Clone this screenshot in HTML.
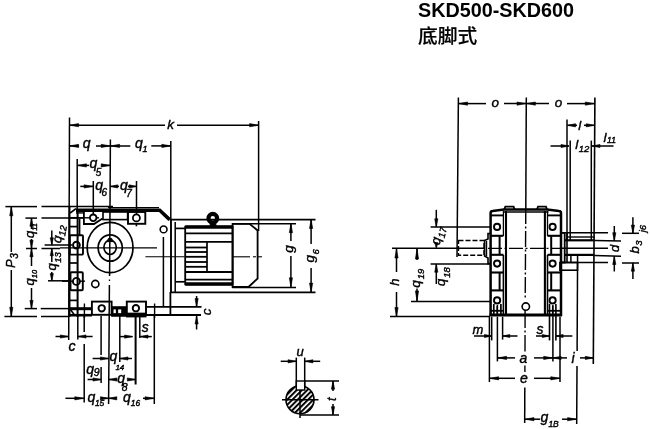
<!DOCTYPE html>
<html lang="zh"><head><meta charset="utf-8"><title>SKD500-SKD600 底脚式</title>
<style>
html,body{margin:0;padding:0;background:#fff;}
body{filter:grayscale(1);}
body{width:650px;height:429px;overflow:hidden;position:relative;font-family:"Liberation Sans","Noto Sans CJK SC",sans-serif;}
h1{position:absolute;left:418px;top:-0.5px;margin:0;font-size:19.8px;line-height:20px;font-weight:bold;color:#000;white-space:nowrap;letter-spacing:0px}
h2{position:absolute;left:418px;top:25.6px;margin:0;font-size:20px;line-height:22px;font-weight:500;color:#000;white-space:nowrap;font-family:"Liberation Sans","Noto Sans CJK SC",sans-serif;transform:scale(0.987,0.94);transform-origin:0 0;-webkit-text-stroke:0.2px #000;}
svg{position:absolute;left:0;top:0;}
svg line,svg rect,svg circle,svg ellipse,svg path{stroke:#000;stroke-linecap:butt;}
svg text{font-family:"Liberation Sans",sans-serif;font-style:italic;fill:#000;stroke:#000;stroke-width:0.4px;}
</style></head>
<body>
<h1>SKD500-SKD600</h1>
<h2>底脚式</h2>
<svg width="650" height="429" viewBox="0 0 650 429">
<line x1="69.5" y1="117.5" x2="68.7" y2="340" stroke-width="1.5"/>
<line x1="258.6" y1="121" x2="258.6" y2="231" stroke-width="1.5"/>
<line x1="110.4" y1="139.5" x2="109.6" y2="276" stroke-width="1.5"/>
<line x1="109.5" y1="279.5" x2="109.5" y2="281" stroke-width="1.3"/>
<line x1="109.4" y1="285" x2="108.6" y2="404" stroke-width="1.5"/>
<line x1="170.8" y1="141" x2="170.8" y2="219" stroke-width="1.5"/>
<line x1="77.2" y1="159" x2="77.2" y2="212" stroke-width="1.5"/>
<line x1="93.3" y1="181" x2="93.3" y2="214" stroke-width="1.5"/>
<line x1="136.5" y1="181" x2="136.5" y2="214" stroke-width="1.5"/>
<line x1="69.4" y1="125.2" x2="165" y2="125.2" stroke-width="1.5"/>
<line x1="177" y1="125.2" x2="258.8" y2="125.2" stroke-width="1.5"/>
<polygon points="69.6,125.2 78.6,123.6 78.6,126.8" fill="#000" stroke="#000" stroke-width="0.6" stroke-linejoin="round"/>
<polygon points="258.6,125.2 249.6,123.6 249.6,126.8" fill="#000" stroke="#000" stroke-width="0.6" stroke-linejoin="round"/>
<text x="167.3" y="129" font-size="13.5" text-anchor="start">k</text>
<line x1="69.4" y1="145.9" x2="79" y2="145.9" stroke-width="1.5"/>
<line x1="96" y1="145.9" x2="130.3" y2="145.9" stroke-width="1.5"/>
<line x1="151.3" y1="145.9" x2="171" y2="145.9" stroke-width="1.5"/>
<polygon points="69.6,145.9 78.6,144.3 78.6,147.5" fill="#000" stroke="#000" stroke-width="0.6" stroke-linejoin="round"/>
<polygon points="110.2,145.9 101.2,144.3 101.2,147.5" fill="#000" stroke="#000" stroke-width="0.6" stroke-linejoin="round"/>
<polygon points="110.6,145.9 119.6,144.3 119.6,147.5" fill="#000" stroke="#000" stroke-width="0.6" stroke-linejoin="round"/>
<polygon points="170.8,145.9 161.8,144.3 161.8,147.5" fill="#000" stroke="#000" stroke-width="0.6" stroke-linejoin="round"/>
<text x="82.7" y="147.8" font-size="14" text-anchor="start">q</text>
<text x="135.1" y="147.8" font-size="14" text-anchor="start">q<tspan font-size="9" dx="-0.5" dy="4.2">1</tspan></text>
<line x1="77.2" y1="165.4" x2="89" y2="165.4" stroke-width="1.5"/>
<line x1="102" y1="165.4" x2="110.4" y2="165.4" stroke-width="1.5"/>
<polygon points="77.4,165.4 86.4,163.8 86.4,167.0" fill="#000" stroke="#000" stroke-width="0.6" stroke-linejoin="round"/>
<polygon points="110.2,165.4 101.2,163.8 101.2,167.0" fill="#000" stroke="#000" stroke-width="0.6" stroke-linejoin="round"/>
<text x="89.4" y="167.6" font-size="14" text-anchor="start">q<tspan font-size="10" dx="-1.5" dy="8.2">5</tspan></text>
<line x1="80.3" y1="186.4" x2="93.3" y2="186.4" stroke-width="1.5"/>
<line x1="110.4" y1="186.4" x2="119" y2="186.4" stroke-width="1.5"/>
<line x1="128" y1="186.4" x2="136.5" y2="186.4" stroke-width="1.5"/>
<polygon points="93.1,186.4 84.1,184.8 84.1,188.0" fill="#000" stroke="#000" stroke-width="0.6" stroke-linejoin="round"/>
<polygon points="110.6,186.4 117.6,184.8 117.6,188.0" fill="#000" stroke="#000" stroke-width="0.6" stroke-linejoin="round"/>
<polygon points="136.3,186.4 129.3,184.8 129.3,188.0" fill="#000" stroke="#000" stroke-width="0.6" stroke-linejoin="round"/>
<text x="95.2" y="189.7" font-size="14" text-anchor="start">q<tspan font-size="10" dx="-1.5" dy="6.3">6</tspan></text>
<text x="120" y="190.4" font-size="14" text-anchor="start">q<tspan font-size="10" dx="-1.6" dy="6.2">7</tspan></text>
<line x1="5.4" y1="206.6" x2="37" y2="206.6" stroke-width="1.5"/>
<line x1="41.5" y1="206.6" x2="113" y2="206.6" stroke-width="1.5"/>
<line x1="4.4" y1="316.5" x2="37" y2="316.5" stroke-width="1.5"/>
<line x1="41" y1="316.5" x2="69" y2="316.5" stroke-width="1.5"/>
<line x1="11.3" y1="206.6" x2="11.3" y2="252" stroke-width="1.5"/>
<line x1="11.3" y1="270" x2="11.3" y2="316.5" stroke-width="1.5"/>
<polygon points="11.3,206.8 9.7,215.8 12.9,215.8" fill="#000" stroke="#000" stroke-width="0.6" stroke-linejoin="round"/>
<polygon points="11.3,316.3 9.7,307.3 12.9,307.3" fill="#000" stroke="#000" stroke-width="0.6" stroke-linejoin="round"/>
<text x="14.8" y="268" font-size="13" text-anchor="start" transform="rotate(-90 14.8 268)">P<tspan font-size="10" dx="0.5" dy="3">3</tspan></text>
<line x1="25.4" y1="218.1" x2="37" y2="218.1" stroke-width="1.5"/>
<line x1="41.5" y1="218.1" x2="84" y2="218.1" stroke-width="1.5"/>
<line x1="26" y1="248.5" x2="37" y2="248.5" stroke-width="1.5"/>
<line x1="41.5" y1="248.5" x2="60" y2="248.5" stroke-width="1.5"/>
<line x1="24.7" y1="308.6" x2="37" y2="308.6" stroke-width="1.5"/>
<line x1="40.7" y1="308.6" x2="69" y2="308.6" stroke-width="1.5"/>
<line x1="31.5" y1="218.1" x2="31.5" y2="229" stroke-width="1.5"/>
<line x1="31.5" y1="239" x2="31.5" y2="266" stroke-width="1.5"/>
<line x1="31.5" y1="288" x2="31.5" y2="308.6" stroke-width="1.5"/>
<polygon points="31.5,218.3 29.9,226.3 33.1,226.3" fill="#000" stroke="#000" stroke-width="0.6" stroke-linejoin="round"/>
<polygon points="31.5,248.3 29.9,240.3 33.1,240.3" fill="#000" stroke="#000" stroke-width="0.6" stroke-linejoin="round"/>
<polygon points="31.5,248.7 29.9,256.7 33.1,256.7" fill="#000" stroke="#000" stroke-width="0.6" stroke-linejoin="round"/>
<polygon points="31.5,308.4 29.9,300.4 33.1,300.4" fill="#000" stroke="#000" stroke-width="0.6" stroke-linejoin="round"/>
<text x="34.3" y="238" font-size="13" text-anchor="start" transform="rotate(-90 34.3 238)">q<tspan font-size="7.5" dx="0" dy="3">11</tspan></text>
<text x="34.3" y="285.5" font-size="13" text-anchor="start" transform="rotate(-90 34.3 285.5)">q<tspan font-size="7.5" dx="0" dy="3">10</tspan></text>
<line x1="44.6" y1="245" x2="72" y2="245" stroke-width="1.5"/>
<line x1="48" y1="280.8" x2="69" y2="280.8" stroke-width="1.5"/>
<line x1="51.8" y1="230.5" x2="51.8" y2="245" stroke-width="1.5"/>
<line x1="51.8" y1="248.5" x2="51.8" y2="262" stroke-width="1.5"/>
<line x1="51.8" y1="272" x2="51.8" y2="280.8" stroke-width="1.5"/>
<polygon points="51.8,244.8 50.2,237.8 53.4,237.8" fill="#000" stroke="#000" stroke-width="0.6" stroke-linejoin="round"/>
<polygon points="51.8,248.7 50.2,255.7 53.4,255.7" fill="#000" stroke="#000" stroke-width="0.6" stroke-linejoin="round"/>
<polygon points="51.8,280.6 50.2,273.6 53.4,273.6" fill="#000" stroke="#000" stroke-width="0.6" stroke-linejoin="round"/>
<text x="60.8" y="243.6" font-size="13" text-anchor="start" transform="rotate(-80 60.8 243.6)">q<tspan font-size="9.5" dx="0.5" dy="3">12</tspan></text>
<text x="55.5" y="270.5" font-size="13" text-anchor="start" transform="rotate(-90 55.5 270.5)">q<tspan font-size="9.5" dx="0.5" dy="5.2">13</tspan></text>
<path d="M70.2 213 L76 208.6" fill="none" stroke-width="1.6"/>
<path d="M76 210.3 L159.7 210.3 L169.6 219.6" fill="none" stroke-width="3.5" stroke-linejoin="miter"/>
<line x1="108" y1="207.7" x2="159" y2="207.7" stroke-width="1.2"/>
<line x1="69.5" y1="207" x2="69.5" y2="317" stroke-width="1.9"/>
<line x1="77.6" y1="211" x2="77.6" y2="317" stroke-width="2.0"/>
<line x1="69" y1="217.8" x2="78" y2="217.8" stroke-width="1.7"/>
<line x1="69" y1="226.6" x2="78" y2="226.6" stroke-width="1.7"/>
<line x1="69" y1="263" x2="78" y2="263" stroke-width="1.7"/>
<line x1="69" y1="300.4" x2="78" y2="300.4" stroke-width="1.7"/>
<line x1="79.6" y1="219" x2="79.6" y2="235" stroke-width="1.6"/>
<line x1="76" y1="212.9" x2="84" y2="212.9" stroke-width="1.4"/>
<path d="M83.9 212 L83.9 224 L94 224 L102.5 218.6" fill="none" stroke-width="1.8"/>
<circle cx="93.2" cy="217.8" r="3.3" fill="none" stroke-width="1.8"/>
<line x1="78" y1="217.8" x2="90" y2="217.8" stroke-width="1.4"/>
<line x1="96.5" y1="217.8" x2="99" y2="217.8" stroke-width="1.4"/>
<rect x="103" y="212" width="24.6" height="7.6" rx="0" fill="none" stroke-width="1.6"/>
<rect x="128" y="212" width="17.3" height="11.8" rx="0" fill="none" stroke-width="1.9"/>
<circle cx="136.4" cy="217.9" r="3.5" fill="none" stroke-width="1.8"/>
<line x1="136.4" y1="223.8" x2="136.4" y2="226.3" stroke-width="1.6"/>
<rect x="69.8" y="235.3" width="13.2" height="19.3" rx="1" fill="none" stroke-width="1.9"/>
<circle cx="76.4" cy="245.1" r="3.4" fill="none" stroke-width="1.9"/>
<rect x="70.5" y="272.2" width="12.3" height="18.0" rx="1" fill="none" stroke-width="1.9"/>
<circle cx="76.4" cy="281.4" r="3.5" fill="none" stroke-width="1.9"/>
<line x1="62" y1="281.2" x2="72.9" y2="281.2" stroke-width="1.4"/>
<line x1="80" y1="281.2" x2="85" y2="281.2" stroke-width="1.4"/>
<rect x="91.9" y="301.6" width="19.7" height="13.2" rx="0" fill="none" stroke-width="1.9"/>
<circle cx="101.7" cy="308.3" r="3.2" fill="none" stroke-width="1.9"/>
<rect x="126.8" y="301.6" width="19.2" height="12.0" rx="0" fill="none" stroke-width="1.9"/>
<circle cx="135.9" cy="308.2" r="3.2" fill="none" stroke-width="1.9"/>
<rect x="111.6" y="306.5" width="15.2" height="9.9" rx="0" fill="#000" stroke-width="0.6"/>
<rect x="113.3" y="309.2" width="2.7" height="4.0" rx="0" fill="#fff" stroke-width="0.3"/>
<rect x="118" y="309.2" width="3.3" height="4.0" rx="0" fill="#fff" stroke-width="0.3"/>
<line x1="126" y1="315.4" x2="146.5" y2="315.4" stroke-width="4"/>
<ellipse cx="110.1" cy="247.5" rx="22.9" ry="25.1" fill="none" stroke-width="1.7"/>
<ellipse cx="110.2" cy="248" rx="12.1" ry="13.2" fill="none" stroke-width="1.7"/>
<ellipse cx="110.1" cy="247.3" rx="6.2" ry="7.2" fill="none" stroke-width="1.7"/>
<path d="M107.3 241.6 L108.5 238.4 L111.6 238.4 L112.8 241.6 Z" fill="#000" stroke-width="1"/>
<circle cx="95.3" cy="284" r="3.6" fill="none" stroke-width="1.6"/>
<circle cx="163.6" cy="229.4" r="3.4" fill="none" stroke-width="1.6"/>
<line x1="60" y1="247.9" x2="157" y2="247.9" stroke-width="1.3"/>
<line x1="69" y1="308.7" x2="92" y2="308.7" stroke-width="3"/>
<line x1="69" y1="315.2" x2="92" y2="315.2" stroke-width="2.6"/>
<line x1="146" y1="306.9" x2="201.5" y2="306.9" stroke-width="1.8"/>
<line x1="146" y1="315" x2="201" y2="315" stroke-width="2.2"/>
<path d="M70 309 L74.5 315" fill="none" stroke-width="1.5"/>
<line x1="163.4" y1="237" x2="163.4" y2="307" stroke-width="1.5"/>
<line x1="170.4" y1="292" x2="170.4" y2="316" stroke-width="1.8"/>
<line x1="84.4" y1="303.5" x2="84.4" y2="318" stroke-width="1.4"/>
<line x1="154.6" y1="303.5" x2="154.6" y2="318" stroke-width="1.4"/>
<line x1="169.5" y1="219.6" x2="315.5" y2="219.6" stroke-width="1.8"/>
<line x1="170" y1="292.3" x2="315.5" y2="292.3" stroke-width="1.8"/>
<line x1="171" y1="219.3" x2="171" y2="292" stroke-width="1.9"/>
<line x1="175.2" y1="222" x2="175.2" y2="292" stroke-width="1.5"/>
<line x1="175.2" y1="228.4" x2="185" y2="228.4" stroke-width="1.7"/>
<line x1="175.2" y1="281.8" x2="185" y2="281.8" stroke-width="1.7"/>
<rect x="185.2" y="226.7" width="47.4" height="57.6" rx="0" fill="none" stroke-width="1.8"/>
<line x1="185.2" y1="227" x2="232.6" y2="227" stroke-width="3.7"/>
<line x1="185.2" y1="284" x2="232.6" y2="284" stroke-width="3.5"/>
<line x1="185.2" y1="233.3" x2="232.6" y2="233.3" stroke-width="1.7"/>
<line x1="185.2" y1="241.8" x2="232.6" y2="241.8" stroke-width="1.8"/>
<line x1="185.2" y1="272" x2="232.6" y2="272" stroke-width="1.8"/>
<line x1="185.2" y1="279.6" x2="232.6" y2="279.6" stroke-width="1.6"/>
<line x1="185.2" y1="247.5" x2="207" y2="247.5" stroke-width="1.8"/>
<line x1="185.2" y1="252" x2="207" y2="252" stroke-width="1.8"/>
<line x1="185.2" y1="256.8" x2="207" y2="256.8" stroke-width="1.8"/>
<line x1="185.2" y1="262" x2="207" y2="262" stroke-width="1.8"/>
<line x1="185.2" y1="266.8" x2="207" y2="266.8" stroke-width="1.8"/>
<line x1="207" y1="241.6" x2="207" y2="272" stroke-width="1.7"/>
<path d="M232.6 223.8 L249.5 223.8 L257.6 230.5 L257.6 278.5 L248.5 287 L232.6 287 Z" fill="none" stroke-width="1.8"/>
<line x1="232.3" y1="223.7" x2="296" y2="223.7" stroke-width="1.5"/>
<line x1="232.3" y1="287.4" x2="296" y2="287.4" stroke-width="1.5"/>
<circle cx="212.8" cy="218.2" r="4.3" fill="none" stroke-width="4.2"/>
<rect x="210.2" y="222.5" width="5.6" height="4.0" rx="0" fill="#000" stroke-width="1"/>
<line x1="145.4" y1="256.8" x2="184.6" y2="256.8" stroke-width="1.1"/>
<line x1="232.3" y1="256.8" x2="250" y2="256.8" stroke-width="1.1"/>
<line x1="253" y1="256.8" x2="256" y2="256.8" stroke-width="1.1"/>
<line x1="258" y1="256.8" x2="262" y2="256.8" stroke-width="1.1"/>
<line x1="290.9" y1="223.5" x2="290.9" y2="241" stroke-width="1.5"/>
<line x1="290.9" y1="256" x2="290.9" y2="287" stroke-width="1.5"/>
<polygon points="290.9,223.7 289.3,232.7 292.5,232.7" fill="#000" stroke="#000" stroke-width="0.6" stroke-linejoin="round"/>
<polygon points="290.9,286.8 289.3,277.8 292.5,277.8" fill="#000" stroke="#000" stroke-width="0.6" stroke-linejoin="round"/>
<text x="293" y="252.7" font-size="13.5" text-anchor="start" transform="rotate(-90 293 252.7)">g</text>
<line x1="311.1" y1="219.3" x2="311.1" y2="244" stroke-width="1.5"/>
<line x1="311.1" y1="268" x2="311.1" y2="292.3" stroke-width="1.5"/>
<polygon points="311.1,219.5 309.5,228.5 312.7,228.5" fill="#000" stroke="#000" stroke-width="0.6" stroke-linejoin="round"/>
<polygon points="311.1,292.1 309.5,283.1 312.7,283.1" fill="#000" stroke="#000" stroke-width="0.6" stroke-linejoin="round"/>
<text x="313.8" y="262.4" font-size="13.5" text-anchor="start" transform="rotate(-90 313.8 262.4)">g<tspan font-size="9.5" dx="0.5" dy="5">6</tspan></text>
<line x1="196.6" y1="296" x2="196.6" y2="306.8" stroke-width="1.5"/>
<line x1="196.6" y1="315.8" x2="196.6" y2="329.5" stroke-width="1.5"/>
<polygon points="196.6,306.6 195.0,298.6 198.2,298.6" fill="#000" stroke="#000" stroke-width="0.6" stroke-linejoin="round"/>
<polygon points="196.6,316 195.0,324 198.2,324" fill="#000" stroke="#000" stroke-width="0.6" stroke-linejoin="round"/>
<text x="210.6" y="315.2" font-size="13.5" text-anchor="start" transform="rotate(-90 210.6 315.2)">c</text>
<line x1="77.8" y1="316" x2="77.8" y2="339.5" stroke-width="1.5"/>
<line x1="84.2" y1="316" x2="84.2" y2="332" stroke-width="1.5"/>
<line x1="84.2" y1="344" x2="84.2" y2="402.5" stroke-width="1.5"/>
<line x1="101.1" y1="316" x2="101.1" y2="355" stroke-width="1.5"/>
<line x1="101.1" y1="367" x2="101.1" y2="383" stroke-width="1.5"/>
<line x1="119.8" y1="316" x2="119.8" y2="362" stroke-width="1.5"/>
<line x1="135.6" y1="316" x2="135.6" y2="384.5" stroke-width="2"/>
<line x1="139.8" y1="316" x2="139.8" y2="338" stroke-width="1.5"/>
<line x1="154.3" y1="316" x2="154.3" y2="404" stroke-width="1.5"/>
<line x1="55.5" y1="336.5" x2="69" y2="336.5" stroke-width="1.5"/>
<line x1="77.8" y1="336.5" x2="92.6" y2="336.5" stroke-width="1.5"/>
<polygon points="68.4,336.5 60.4,334.9 60.4,338.1" fill="#000" stroke="#000" stroke-width="0.6" stroke-linejoin="round"/>
<polygon points="78,336.5 86,334.9 86,338.1" fill="#000" stroke="#000" stroke-width="0.6" stroke-linejoin="round"/>
<text x="68.6" y="350.5" font-size="14" text-anchor="start">c</text>
<line x1="120" y1="336.6" x2="132.5" y2="336.6" stroke-width="1.5"/>
<line x1="140" y1="336.6" x2="151.8" y2="336.6" stroke-width="1.5"/>
<polygon points="132.6,336.6 124.6,335.0 124.6,338.2" fill="#000" stroke="#000" stroke-width="0.6" stroke-linejoin="round"/>
<polygon points="140,336.6 148,335.0 148,338.2" fill="#000" stroke="#000" stroke-width="0.6" stroke-linejoin="round"/>
<text x="141.8" y="331.8" font-size="14" text-anchor="start">s</text>
<line x1="92.6" y1="358.5" x2="108.6" y2="358.5" stroke-width="1.5"/>
<line x1="119.8" y1="358.5" x2="132" y2="358.5" stroke-width="1.5"/>
<polygon points="108.4,358.5 100.4,356.9 100.4,360.1" fill="#000" stroke="#000" stroke-width="0.6" stroke-linejoin="round"/>
<polygon points="120,358.5 128,356.9 128,360.1" fill="#000" stroke="#000" stroke-width="0.6" stroke-linejoin="round"/>
<text x="109.6" y="361.1" font-size="14" text-anchor="start">q<tspan font-size="8" dx="-2" dy="9">14</tspan></text>
<line x1="87.6" y1="379.5" x2="101.2" y2="379.5" stroke-width="1.5"/>
<polygon points="101,379.5 93,377.9 93,381.1" fill="#000" stroke="#000" stroke-width="0.6" stroke-linejoin="round"/>
<text x="86.2" y="374" font-size="14" text-anchor="start">q<tspan font-size="10.5" dx="-0.3" dy="1.5">9</tspan></text>
<line x1="108.6" y1="379.5" x2="117" y2="379.5" stroke-width="1.5"/>
<line x1="129" y1="379.5" x2="135.5" y2="379.5" stroke-width="1.5"/>
<polygon points="108.8,379.5 116.8,377.9 116.8,381.1" fill="#000" stroke="#000" stroke-width="0.6" stroke-linejoin="round"/>
<polygon points="135.3,379.5 127.3,377.9 127.3,381.1" fill="#000" stroke="#000" stroke-width="0.6" stroke-linejoin="round"/>
<text x="117.2" y="382.5" font-size="14" text-anchor="start">q<tspan font-size="10.5" dx="-3.2" dy="8.3">8</tspan></text>
<line x1="65.4" y1="398.3" x2="84" y2="398.3" stroke-width="1.5"/>
<line x1="102" y1="398.3" x2="116" y2="398.3" stroke-width="1.5"/>
<line x1="143" y1="398.3" x2="154.3" y2="398.3" stroke-width="1.5"/>
<polygon points="83.8,398.3 74.8,396.7 74.8,399.9" fill="#000" stroke="#000" stroke-width="0.6" stroke-linejoin="round"/>
<polygon points="108.4,398.3 100.4,396.7 100.4,399.9" fill="#000" stroke="#000" stroke-width="0.6" stroke-linejoin="round"/>
<polygon points="108.8,398.3 116.8,396.7 116.8,399.9" fill="#000" stroke="#000" stroke-width="0.6" stroke-linejoin="round"/>
<polygon points="154.1,398.3 145.1,396.7 145.1,399.9" fill="#000" stroke="#000" stroke-width="0.6" stroke-linejoin="round"/>
<text x="87.4" y="401.5" font-size="14" text-anchor="start">q<tspan font-size="8.5" dx="-0.3" dy="4.2">15</tspan></text>
<text x="123" y="401.5" font-size="14" text-anchor="start">q<tspan font-size="8.5" dx="0" dy="4.5">16</tspan></text>
<defs><pattern id="h" width="3.7" height="3.7" patternUnits="userSpaceOnUse" patternTransform="rotate(-45)"><rect x="0" y="0" width="3.7" height="1.5" fill="#000" stroke="none"/></pattern></defs>
<circle cx="300" cy="399.7" r="14" fill="url(#h)" stroke-width="1.6"/>
<rect x="296.3" y="381" width="8.4" height="9" rx="0" fill="#fff" stroke-width="1.4"/>
<line x1="296.3" y1="357.6" x2="296.3" y2="386" stroke-width="1.5"/>
<line x1="304.7" y1="357.6" x2="304.7" y2="386" stroke-width="1.5"/>
<line x1="280.7" y1="361.3" x2="296.3" y2="361.3" stroke-width="1.5"/>
<line x1="304.7" y1="361.3" x2="320.2" y2="361.3" stroke-width="1.5"/>
<polygon points="296.1,361.3 288.1,359.7 288.1,362.9" fill="#000" stroke="#000" stroke-width="0.6" stroke-linejoin="round"/>
<polygon points="304.9,361.3 312.9,359.7 312.9,362.9" fill="#000" stroke="#000" stroke-width="0.6" stroke-linejoin="round"/>
<text x="296.5" y="355.6" font-size="13" text-anchor="start">u</text>
<line x1="304.7" y1="381" x2="339" y2="381" stroke-width="1.5"/>
<line x1="300" y1="414.9" x2="339" y2="414.9" stroke-width="1.5"/>
<line x1="333" y1="381" x2="333" y2="391" stroke-width="1.5"/>
<line x1="333" y1="404" x2="333" y2="414.9" stroke-width="1.5"/>
<polygon points="333,381.2 331.4,389.2 334.6,389.2" fill="#000" stroke="#000" stroke-width="0.6" stroke-linejoin="round"/>
<polygon points="333,414.7 331.4,406.7 334.6,406.7" fill="#000" stroke="#000" stroke-width="0.6" stroke-linejoin="round"/>
<text x="336.3" y="401" font-size="13" text-anchor="start" transform="rotate(-90 336.3 401)">t</text>
<line x1="282" y1="399.7" x2="318.5" y2="399.7" stroke-width="1.5"/>
<line x1="300" y1="390" x2="300" y2="418" stroke-width="1.5"/>
<line x1="458.4" y1="97.4" x2="457" y2="257" stroke-width="1.5"/>
<line x1="526.3" y1="97.4" x2="525.8" y2="208" stroke-width="1.5"/>
<line x1="525.8" y1="208" x2="525.2" y2="300" stroke-width="1.4" stroke-dasharray="16 2.5 2 2.5"/>
<line x1="525.1" y1="310" x2="525" y2="351.5" stroke-width="1.4" stroke-dasharray="18 2.5 2 2.5"/>
<line x1="524.9" y1="365.5" x2="524.9" y2="372" stroke-width="1.4"/>
<line x1="524.8" y1="387.5" x2="524.7" y2="423" stroke-width="1.5"/>
<line x1="594.9" y1="97.4" x2="593.3" y2="364" stroke-width="1.6"/>
<line x1="458.3" y1="103.6" x2="486" y2="103.6" stroke-width="1.5"/>
<line x1="504" y1="103.6" x2="549" y2="103.6" stroke-width="1.5"/>
<line x1="567" y1="103.6" x2="594.5" y2="103.6" stroke-width="1.5"/>
<polygon points="458.5,103.6 467.5,102.0 467.5,105.2" fill="#000" stroke="#000" stroke-width="0.6" stroke-linejoin="round"/>
<polygon points="526,103.6 517,102.0 517,105.2" fill="#000" stroke="#000" stroke-width="0.6" stroke-linejoin="round"/>
<polygon points="526.4,103.6 535.4,102.0 535.4,105.2" fill="#000" stroke="#000" stroke-width="0.6" stroke-linejoin="round"/>
<polygon points="594.3,103.6 585.3,102.0 585.3,105.2" fill="#000" stroke="#000" stroke-width="0.6" stroke-linejoin="round"/>
<text x="491.6" y="106.8" font-size="13.5" text-anchor="start">o</text>
<text x="554.7" y="106.8" font-size="13.5" text-anchor="start">o</text>
<line x1="567" y1="119.6" x2="567" y2="240" stroke-width="1.5"/>
<line x1="567.3" y1="125.3" x2="577" y2="125.3" stroke-width="1.5"/>
<line x1="584" y1="125.3" x2="594.5" y2="125.3" stroke-width="1.5"/>
<polygon points="567.5,125.3 575.5,123.7 575.5,126.9" fill="#000" stroke="#000" stroke-width="0.6" stroke-linejoin="round"/>
<polygon points="594.3,125.3 586.3,123.7 586.3,126.9" fill="#000" stroke="#000" stroke-width="0.6" stroke-linejoin="round"/>
<text x="578.2" y="129.5" font-size="13" text-anchor="start">l</text>
<line x1="570.2" y1="140.6" x2="570.2" y2="240" stroke-width="1.5"/>
<line x1="591.3" y1="140.6" x2="591.3" y2="240" stroke-width="1.5"/>
<line x1="550.5" y1="146" x2="569" y2="146" stroke-width="1.5"/>
<line x1="592" y1="146" x2="613.5" y2="146" stroke-width="1.5"/>
<polygon points="569,146 561,144.4 561,147.6" fill="#000" stroke="#000" stroke-width="0.6" stroke-linejoin="round"/>
<polygon points="592,146 600,144.4 600,147.6" fill="#000" stroke="#000" stroke-width="0.6" stroke-linejoin="round"/>
<text x="575.2" y="148.7" font-size="13.5" text-anchor="start">l<tspan font-size="9.5" dx="0.5" dy="3">12</tspan></text>
<text x="603.6" y="141.5" font-size="13.5" text-anchor="start">l<tspan font-size="8.5" dx="0.5" dy="1.5">11</tspan></text>
<line x1="430.6" y1="227" x2="490" y2="227" stroke-width="1.5"/>
<line x1="392" y1="248.3" x2="484.5" y2="248.3" stroke-width="1.5"/>
<line x1="488" y1="248.3" x2="562" y2="248.3" stroke-width="1.3" stroke-dasharray="14 2.5 2 2.5"/>
<line x1="562" y1="248.3" x2="608" y2="248.3" stroke-width="1.5"/>
<line x1="430.6" y1="264" x2="490" y2="264" stroke-width="1.5"/>
<line x1="411" y1="301.4" x2="490" y2="301.4" stroke-width="1.5"/>
<line x1="390" y1="316.6" x2="490" y2="316.6" stroke-width="1.5"/>
<line x1="436.3" y1="209.8" x2="436.3" y2="227" stroke-width="1.5"/>
<polygon points="436.3,226.8 434.7,218.8 437.9,218.8" fill="#000" stroke="#000" stroke-width="0.6" stroke-linejoin="round"/>
<line x1="436.3" y1="264" x2="436.3" y2="284" stroke-width="1.5"/>
<polygon points="436.3,264.2 434.7,272.2 437.9,272.2" fill="#000" stroke="#000" stroke-width="0.6" stroke-linejoin="round"/>
<polygon points="436.3,248.6 434.7,242.6 437.9,242.6" fill="#000" stroke="#000" stroke-width="0.6" stroke-linejoin="round"/>
<text x="439.5" y="245.5" font-size="13.5" text-anchor="start" transform="rotate(-78 439.5 245.5)">q<tspan font-size="9.5" dx="0.5" dy="3.5">17</tspan></text>
<text x="445.2" y="286" font-size="13" text-anchor="start" transform="rotate(-90 445.2 286)">q<tspan font-size="9.5" dx="1" dy="5">18</tspan></text>
<line x1="396.5" y1="248.8" x2="396.5" y2="272" stroke-width="1.5"/>
<line x1="396.5" y1="292" x2="396.5" y2="316.7" stroke-width="1.5"/>
<polygon points="396.5,249 394.9,258 398.1,258" fill="#000" stroke="#000" stroke-width="0.6" stroke-linejoin="round"/>
<polygon points="396.5,316.5 394.9,307.5 398.1,307.5" fill="#000" stroke="#000" stroke-width="0.6" stroke-linejoin="round"/>
<text x="399.3" y="285.8" font-size="13" text-anchor="start" transform="rotate(-90 399.3 285.8)">h</text>
<line x1="417" y1="248.8" x2="417" y2="260" stroke-width="1.5"/>
<line x1="417" y1="288.5" x2="417" y2="301.4" stroke-width="1.5"/>
<polygon points="417,249 415.4,259 418.6,259" fill="#000" stroke="#000" stroke-width="0.6" stroke-linejoin="round"/>
<polygon points="417,300.9 415.4,290.9 418.6,290.9" fill="#000" stroke="#000" stroke-width="0.6" stroke-linejoin="round"/>
<text x="420" y="287.7" font-size="13.5" text-anchor="start" transform="rotate(-90 420 287.7)">q<tspan font-size="9.5" dx="1" dy="4">19</tspan></text>
<rect x="458.5" y="240.5" width="25.5" height="14.7" rx="0" fill="none" stroke-width="1.4" stroke-dasharray="5 2"/>
<path d="M490.6 316 L490.6 213 Q490.6 211.2 492.5 211 L504 209.4 L547 209.4 L559 211 Q561 211.2 561 213 L561 316" fill="none" stroke-width="2.5"/>
<path d="M504.3 209.4 L505.3 206.6 L513.6 206.6 L514.6 209.4" fill="none" stroke-width="1.7"/>
<path d="M537 209.4 L538 206.6 L546 206.6 L547 209.4" fill="none" stroke-width="1.7"/>
<line x1="503" y1="211.9" x2="548.5" y2="211.9" stroke-width="1.5"/>
<line x1="506" y1="211" x2="506" y2="315" stroke-width="2.1"/>
<line x1="503.4" y1="211" x2="503.4" y2="236" stroke-width="1.3"/>
<line x1="544.9" y1="211" x2="544.9" y2="315" stroke-width="2.1"/>
<line x1="547.5" y1="211" x2="547.5" y2="236" stroke-width="1.3"/>
<line x1="490.6" y1="215.4" x2="503.4" y2="215.4" stroke-width="1.9"/>
<line x1="490.6" y1="235.8" x2="503.4" y2="235.8" stroke-width="2.1"/>
<line x1="490.6" y1="254.8" x2="503.4" y2="254.8" stroke-width="2.1"/>
<line x1="490.6" y1="272.5" x2="503.4" y2="272.5" stroke-width="2.1"/>
<line x1="490.6" y1="290.4" x2="503.4" y2="290.4" stroke-width="2.1"/>
<line x1="490.6" y1="310.8" x2="503.4" y2="310.8" stroke-width="1.8"/>
<circle cx="497.1" cy="226.9" r="3.1" fill="none" stroke-width="1.9"/>
<circle cx="497.1" cy="263.6" r="3.1" fill="none" stroke-width="1.9"/>
<circle cx="497.1" cy="300.4" r="3.1" fill="none" stroke-width="1.9"/>
<line x1="497.1" y1="306" x2="497.1" y2="316" stroke-width="1.3"/>
<line x1="547.5" y1="215.4" x2="561" y2="215.4" stroke-width="1.9"/>
<line x1="547.5" y1="235.8" x2="561" y2="235.8" stroke-width="2.1"/>
<line x1="547.5" y1="254.8" x2="561" y2="254.8" stroke-width="2.1"/>
<line x1="547.5" y1="272.5" x2="561" y2="272.5" stroke-width="2.1"/>
<line x1="547.5" y1="290.4" x2="561" y2="290.4" stroke-width="2.1"/>
<line x1="547.5" y1="310.8" x2="561" y2="310.8" stroke-width="1.8"/>
<circle cx="552.6" cy="226.9" r="3.1" fill="none" stroke-width="1.9"/>
<circle cx="552.6" cy="263.6" r="3.1" fill="none" stroke-width="1.9"/>
<circle cx="552.6" cy="300.4" r="3.1" fill="none" stroke-width="1.9"/>
<line x1="552.6" y1="306" x2="552.6" y2="316" stroke-width="1.3"/>
<line x1="499.6" y1="236" x2="499.6" y2="254.8" stroke-width="2"/>
<line x1="499.6" y1="272.5" x2="499.6" y2="290.4" stroke-width="2"/>
<line x1="503.4" y1="254.8" x2="503.4" y2="315" stroke-width="1.6"/>
<line x1="551.2" y1="236" x2="551.2" y2="254.8" stroke-width="2"/>
<line x1="551.2" y1="272.5" x2="551.2" y2="290.4" stroke-width="2"/>
<line x1="547.5" y1="254.8" x2="547.5" y2="315" stroke-width="1.6"/>
<line x1="489.5" y1="315" x2="562" y2="315" stroke-width="2.8"/>
<circle cx="525.8" cy="306.6" r="3.7" fill="none" stroke-width="1.6"/>
<path d="M490.6 233.5 L488 233.5 L488 239 L484.6 240.6 L484.6 256 L488 258 L488 263.6 L490.6 263.6" fill="none" stroke-width="1.6"/>
<line x1="486.5" y1="241" x2="486.5" y2="256" stroke-width="1.4"/>
<rect x="561" y="232.9" width="3.7" height="29.6" rx="0" fill="none" stroke-width="1.8"/>
<line x1="561" y1="232.8" x2="608" y2="232.8" stroke-width="1.5"/>
<line x1="561" y1="262.5" x2="608" y2="262.5" stroke-width="1.5"/>
<line x1="566.9" y1="237" x2="594.5" y2="237" stroke-width="1.4"/>
<line x1="564.7" y1="240.3" x2="594.5" y2="240.3" stroke-width="2.2"/>
<line x1="564.7" y1="254.9" x2="594.5" y2="254.9" stroke-width="2.2"/>
<line x1="594.5" y1="240.5" x2="621" y2="240.9" stroke-width="1.5"/>
<line x1="594.5" y1="255.6" x2="621" y2="256.3" stroke-width="1.5"/>
<line x1="567" y1="232.9" x2="567" y2="262.5" stroke-width="1.6"/>
<line x1="570.9" y1="254.9" x2="570.9" y2="262.5" stroke-width="1.5"/>
<rect x="559.9" y="262.5" width="17.6" height="7.7" rx="0" fill="none" stroke-width="1.6"/>
<line x1="614.3" y1="226" x2="614.3" y2="241.1" stroke-width="1.5"/>
<line x1="614.3" y1="256.2" x2="614.3" y2="271.5" stroke-width="1.5"/>
<polygon points="614.3,240.7 612.7,232.7 615.9,232.7" fill="#000" stroke="#000" stroke-width="0.6" stroke-linejoin="round"/>
<polygon points="614.3,256.5 612.7,264.5 615.9,264.5" fill="#000" stroke="#000" stroke-width="0.6" stroke-linejoin="round"/>
<text x="618.8" y="252" font-size="13" text-anchor="start" transform="rotate(-90 618.8 252)">d</text>
<line x1="622" y1="233.3" x2="639" y2="233.3" stroke-width="1.5"/>
<line x1="622" y1="263" x2="639" y2="263" stroke-width="1.5"/>
<line x1="632.9" y1="217.2" x2="632.9" y2="233.2" stroke-width="1.5"/>
<line x1="632.9" y1="262.8" x2="632.9" y2="279" stroke-width="1.5"/>
<polygon points="632.9,233.1 631.3,225.1 634.5,225.1" fill="#000" stroke="#000" stroke-width="0.6" stroke-linejoin="round"/>
<polygon points="632.9,263.2 631.3,271.2 634.5,271.2" fill="#000" stroke="#000" stroke-width="0.6" stroke-linejoin="round"/>
<text x="638.8" y="253.4" font-size="13" text-anchor="start" transform="rotate(-90 638.8 253.4)">b<tspan font-size="9.5" dx="0.5" dy="3.5">3</tspan></text>
<text x="645.8" y="232.3" font-size="9.5" text-anchor="start" transform="rotate(-90 645.8 232.3)">j6</text>
<line x1="489.4" y1="316.7" x2="489.4" y2="382" stroke-width="1.5"/>
<line x1="491.7" y1="316.7" x2="491.7" y2="340.4" stroke-width="1.5"/>
<line x1="497.4" y1="316.7" x2="497.4" y2="361.4" stroke-width="1.5"/>
<line x1="502.6" y1="316.7" x2="502.6" y2="339.6" stroke-width="1.5"/>
<line x1="493.8" y1="304" x2="493.8" y2="316" stroke-width="1.7"/>
<line x1="497.4" y1="305" x2="497.4" y2="316" stroke-width="1.5"/>
<line x1="500.9" y1="304" x2="500.9" y2="316" stroke-width="1.7"/>
<line x1="549.5" y1="304" x2="549.5" y2="340.4" stroke-width="1.6"/>
<line x1="552.9" y1="305" x2="552.9" y2="361.4" stroke-width="1.5"/>
<line x1="555.9" y1="304" x2="555.9" y2="340.4" stroke-width="1.6"/>
<line x1="560" y1="316.7" x2="560" y2="382" stroke-width="1.5"/>
<line x1="577.6" y1="255" x2="577.1" y2="351" stroke-width="1.5"/>
<line x1="577" y1="366" x2="576.7" y2="424" stroke-width="1.5"/>
<line x1="474" y1="336" x2="491.7" y2="336" stroke-width="1.5"/>
<line x1="502.6" y1="336" x2="517.5" y2="336" stroke-width="1.5"/>
<polygon points="491.5,336 484.5,334.4 484.5,337.6" fill="#000" stroke="#000" stroke-width="0.6" stroke-linejoin="round"/>
<polygon points="502.8,336 509.8,334.4 509.8,337.6" fill="#000" stroke="#000" stroke-width="0.6" stroke-linejoin="round"/>
<text x="472.6" y="334.2" font-size="13" text-anchor="start">m</text>
<line x1="536" y1="336" x2="549.5" y2="336" stroke-width="1.5"/>
<line x1="555.9" y1="336" x2="572.4" y2="336" stroke-width="1.5"/>
<polygon points="549.3,336 542.3,334.4 542.3,337.6" fill="#000" stroke="#000" stroke-width="0.6" stroke-linejoin="round"/>
<polygon points="556.1,336 563.1,334.4 563.1,337.6" fill="#000" stroke="#000" stroke-width="0.6" stroke-linejoin="round"/>
<text x="536.4" y="334.2" font-size="14" text-anchor="start">s</text>
<line x1="497.4" y1="357.9" x2="515" y2="357.9" stroke-width="1.5"/>
<line x1="534" y1="357.9" x2="552.9" y2="357.9" stroke-width="1.5"/>
<polygon points="497.6,357.9 506.6,356.3 506.6,359.5" fill="#000" stroke="#000" stroke-width="0.6" stroke-linejoin="round"/>
<polygon points="552.7,357.9 543.7,356.3 543.7,359.5" fill="#000" stroke="#000" stroke-width="0.6" stroke-linejoin="round"/>
<text x="519.6" y="362.6" font-size="14" text-anchor="start">a</text>
<line x1="552.9" y1="357.9" x2="567" y2="357.9" stroke-width="1.5"/>
<line x1="580" y1="357.9" x2="593.5" y2="357.9" stroke-width="1.5"/>
<polygon points="553.1,357.9 561.1,356.3 561.1,359.5" fill="#000" stroke="#000" stroke-width="0.6" stroke-linejoin="round"/>
<polygon points="593.3,357.9 585.3,356.3 585.3,359.5" fill="#000" stroke="#000" stroke-width="0.6" stroke-linejoin="round"/>
<text x="571.5" y="362.6" font-size="14" text-anchor="start">i</text>
<line x1="489.4" y1="378.3" x2="515" y2="378.3" stroke-width="1.5"/>
<line x1="534" y1="378.3" x2="560" y2="378.3" stroke-width="1.5"/>
<polygon points="489.6,378.3 498.6,376.7 498.6,379.9" fill="#000" stroke="#000" stroke-width="0.6" stroke-linejoin="round"/>
<polygon points="559.8,378.3 550.8,376.7 550.8,379.9" fill="#000" stroke="#000" stroke-width="0.6" stroke-linejoin="round"/>
<text x="520" y="383" font-size="14" text-anchor="start">e</text>
<line x1="524.8" y1="419.2" x2="540" y2="419.2" stroke-width="1.5"/>
<line x1="562" y1="419.2" x2="576.8" y2="419.2" stroke-width="1.5"/>
<polygon points="525,419.2 534,417.6 534,420.8" fill="#000" stroke="#000" stroke-width="0.6" stroke-linejoin="round"/>
<polygon points="576.6,419.2 567.6,417.6 567.6,420.8" fill="#000" stroke="#000" stroke-width="0.6" stroke-linejoin="round"/>
<text x="540.6" y="421.9" font-size="14" text-anchor="start">g<tspan font-size="8.5" dx="0" dy="5">1B</tspan></text>
</svg>
</body></html>
